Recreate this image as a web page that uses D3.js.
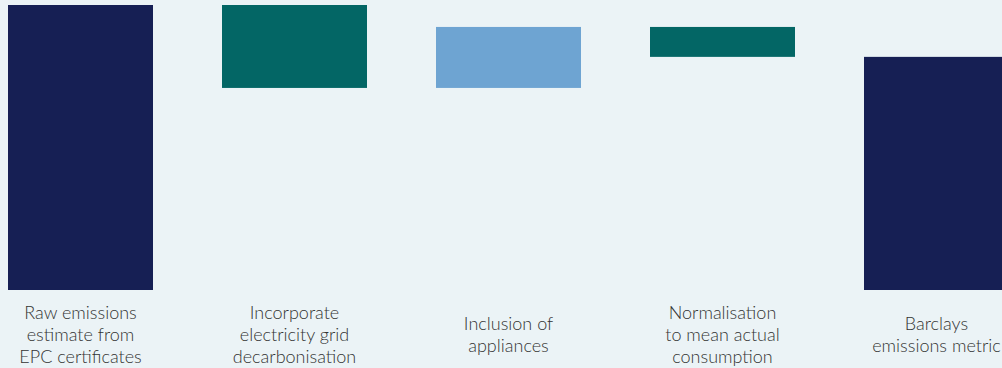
<!DOCTYPE html>
<html>
<head>
<meta charset="utf-8">
<script src="https://cdn.jsdelivr.net/npm/d3@7"></script>
<style>
  html, body { margin: 0; padding: 0; background: #ebf3f6; overflow: hidden; }
  svg { display: block; }
</style>
</head>
<body>
<div id="wrapper"></div>
<script>
const categories = [
  ["Raw emissions", "estimate from", "EPC certificates"],
  ["Incorporate", "electricity grid", "decarbonisation"],
  ["Inclusion of", "appliances"],
  ["Normalisation", "to mean actual", "consumption"],
  ["Barclays", "emissions metric"],
];
// start value, three adjustments, end value
const steps = [100, -29.1, 21.4, -10.5, 81.8];
const kinds = ["total", "down", "up", "down", "total"];

function buildChart() {
  const dimensions = { width: 1002, height: 368 };
  const svg = d3.select("#wrapper").append("svg")
    .attr("width", dimensions.width)
    .attr("height", dimensions.height);

  svg.append("rect")
    .attr("width", dimensions.width)
    .attr("height", dimensions.height)
    .attr("fill", "#ebf3f6");

  const colors = { total: "#161f54", down: "#036665", up: "#6ea4d2" };

  // build waterfall segments
  let running = 0;
  const bars = steps.map((v, i) => {
    let lo, hi;
    if (kinds[i] === "total") {
      lo = 0; hi = v; running = v;
    } else {
      const next = running + v;
      lo = Math.min(running, next); hi = Math.max(running, next);
      running = next;
    }
    return { i, lo, hi, kind: kinds[i] };
  });

  const x = d3.scaleBand()
    .domain(d3.range(categories.length))
    .range([8, 1009])
    .paddingInner(69 / 214)
    .paddingOuter(0);

  const y = d3.scaleLinear()
    .domain([0, 100])
    .range([290, 5]);

  svg.selectAll(".bar")
    .data(bars)
    .enter()
    .append("rect")
    .attr("class", "bar")
    .attr("x", d => x(d.i))
    .attr("y", d => y(d.hi))
    .attr("width", x.bandwidth())
    .attr("height", d => y(d.lo) - y(d.hi))
    .attr("fill", d => colors[d.kind]);

  const lineHeight = 22;
  const labels = svg.selectAll(".label")
    .data(categories)
    .enter()
    .append("text")
    .attr("class", "label")
    .attr("text-anchor", "middle")
    .attr("font-family", "Lato, sans-serif")
    .attr("font-weight", 300)
    .attr("font-size", 18)
    .attr("fill", "#333333");

  labels.each(function(lines, i) {
    const t = d3.select(this);
    const first = 341 - (lines.length - 1) * lineHeight / 2;
    lines.forEach((line, j) => {
      t.append("tspan")
        .attr("x", x(i) + x.bandwidth() / 2)
        .attr("y", first + j * lineHeight)
        .text(line);
    });
  });
}

buildChart();
</script>
</body>
</html>
